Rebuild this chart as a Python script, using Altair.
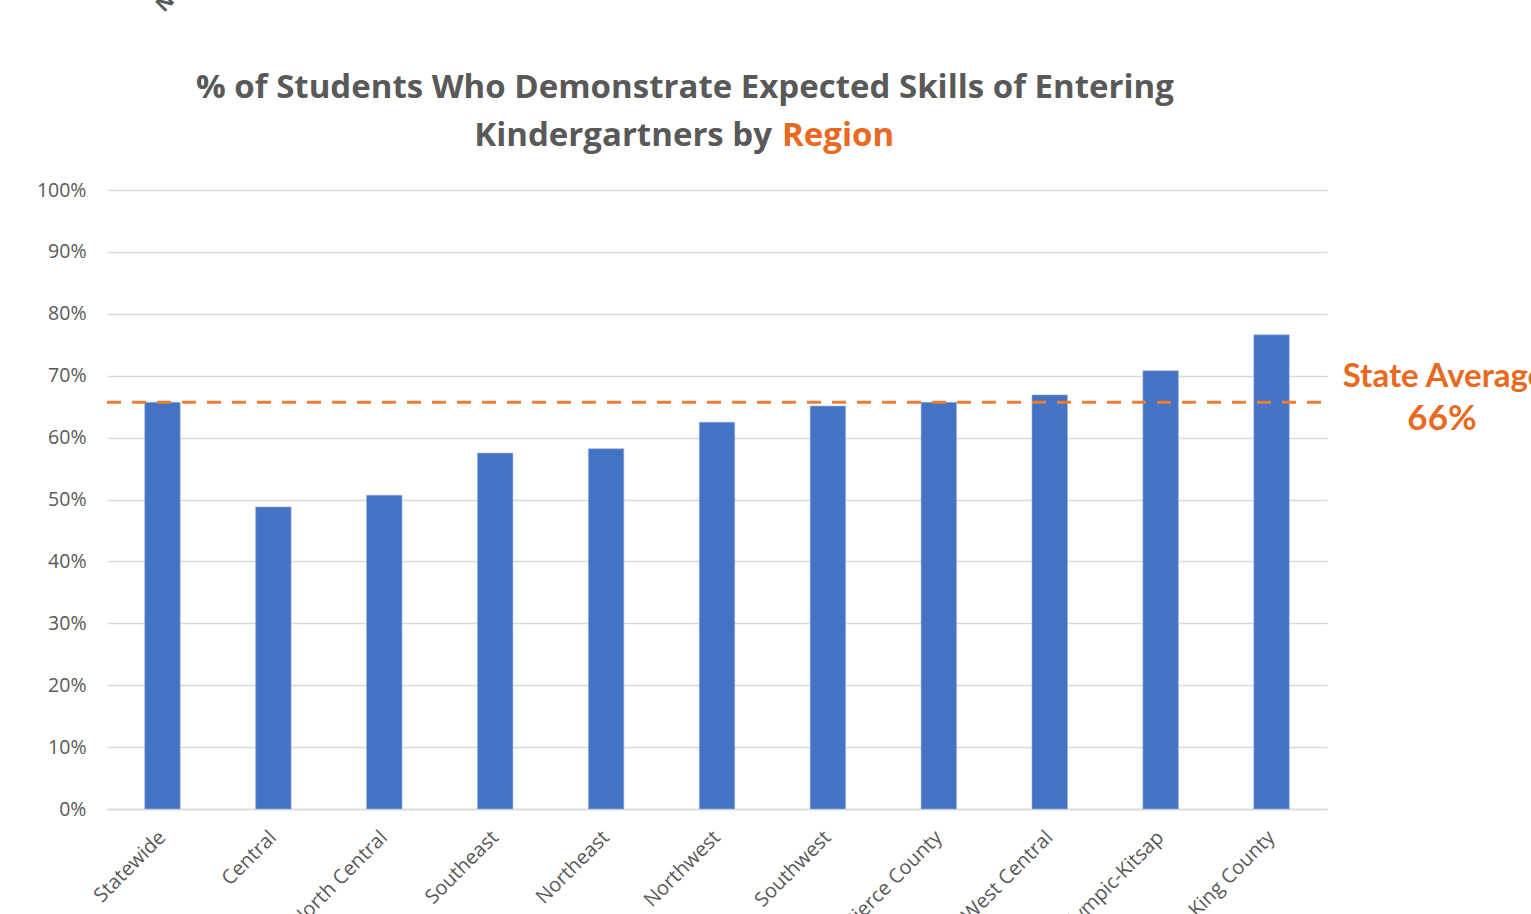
import altair as alt
import pandas as pd

regions = ["Statewide", "Central", "North Central", "Southeast", "Northeast",
           "Northwest", "Southwest", "Pierce County", "West Central",
           "Olympic-Kitsap", "King County"]
values = [0.657, 0.488, 0.507, 0.575, 0.582, 0.625, 0.651, 0.657, 0.669, 0.708, 0.766]
state_avg = 0.657
y_ticks = [0, 0.1, 0.2, 0.3, 0.4, 0.5, 0.6, 0.7, 0.8, 0.9, 1.0]
title_line1 = "% of Students Who Demonstrate Expected Skills of Entering"
title_line2a = "Kindergartners by"
title_line2b = "Region"
stray_label = "North"

GREY = "#595959"
ORANGE = "#E8691F"
FONT = "Open Sans"

df = pd.DataFrame({"region": regions, "value": values})
avg_df = pd.DataFrame({"avg": [state_avg], "t1": ["State Average"], "t2": [f"{round(state_avg*100)}%"]})

W, H = 1220, 619

bars = alt.Chart(df).mark_bar(color="#4472C4", stroke="#9DB5E0", strokeWidth=0.6).encode(
    x=alt.X("region:N", sort=regions, title=None,
            scale=alt.Scale(paddingInner=0.68, paddingOuter=0.34),
            axis=alt.Axis(labelAngle=315, labelAlign="right", labelBaseline="middle",
                          labelPadding=25, ticks=False, domainColor="#D9D9D9",
                          domainWidth=1.5, labelFont=FONT, labelFontSize=20,
                          labelColor=GREY, labelOverlap=False)),
    y=alt.Y("value:Q", title=None, scale=alt.Scale(domain=[0, 1]),
            axis=alt.Axis(format=".0%", values=y_ticks, grid=True, gridColor="#D9D9D9",
                          gridWidth=1.5, domain=False, ticks=False, labelPadding=21,
                          labelFont=FONT, labelFontSize=19.5, labelColor=GREY)),
)

rule = alt.Chart(avg_df).mark_rule(color="#ED7D31", strokeWidth=3, strokeDash=[14, 11]).encode(
    y=alt.Y("avg:Q"), x=alt.value(0), x2=alt.value(1223)
)

avg_t1 = alt.Chart(avg_df).mark_text(font="Lato", fontSize=33, fontWeight="bold", color=ORANGE,
                                     align="center", baseline="middle", dy=-25).encode(
    y=alt.Y("avg:Q"), x=alt.value(1337), text="t1:N")
avg_t2 = alt.Chart(avg_df).mark_text(font="Lato", fontSize=35, fontWeight="bold", color=ORANGE,
                                     align="center", baseline="middle", dy=17).encode(
    y=alt.Y("avg:Q"), x=alt.value(1335), text="t2:N")

tdf = pd.DataFrame({"a": [title_line1], "b": [title_line2a], "c": [title_line2b], "d": [stray_label]})
t1 = alt.Chart(tdf).mark_text(font=FONT, fontSize=33, fontWeight="bold", color=GREY,
                              align="center", baseline="middle").encode(
    x=alt.value(578), y=alt.value(-102), text="a:N")
t2a = alt.Chart(tdf).mark_text(font=FONT, fontSize=33, fontWeight="bold", color=GREY,
                               align="right", baseline="middle").encode(
    x=alt.value(665), y=alt.value(-54), text="b:N")
t2b = alt.Chart(tdf).mark_text(font=FONT, fontSize=33, fontWeight="bold", color=ORANGE,
                               align="left", baseline="middle").encode(
    x=alt.value(675), y=alt.value(-54), text="c:N")
stray = alt.Chart(tdf).mark_text(font=FONT, fontSize=20, fontWeight="bold", color=GREY,
                                 align="left", baseline="alphabetic", angle=315).encode(
    x=alt.value(57), y=alt.value(-177), text="d:N")

chart = alt.layer(bars, rule, avg_t1, avg_t2, t1, t2a, t2b, stray).properties(
    width=W, height=H,
    autosize=alt.AutoSizeParams(type="none"),
    padding={"left": 107, "top": 190, "right": 204, "bottom": 105},
    background="white",
).configure_view(stroke=None)

chart.save("out.html", embed_options={"renderer": "svg", "actions": False})
